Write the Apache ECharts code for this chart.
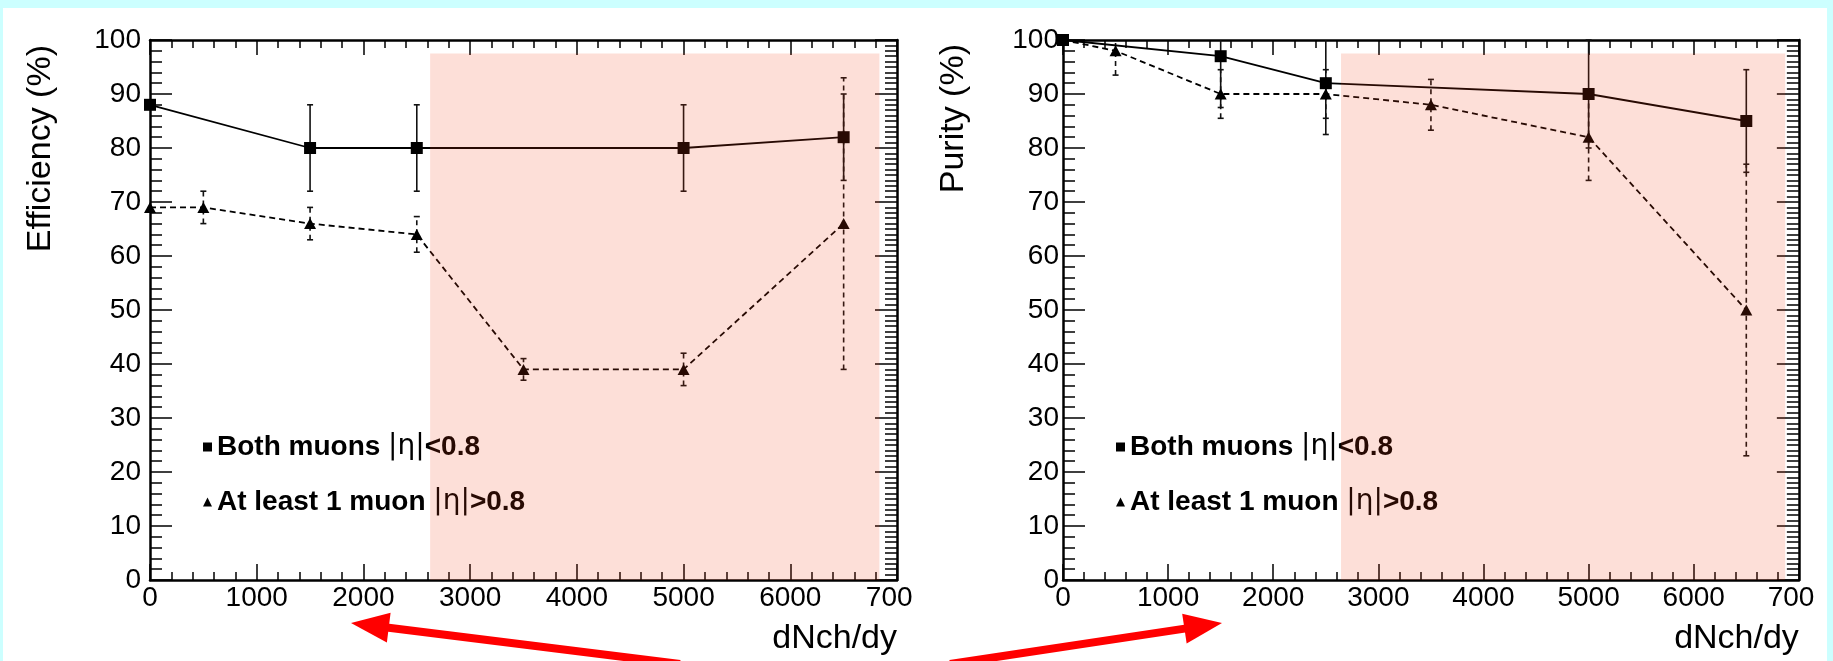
<!DOCTYPE html>
<html>
<head>
<meta charset="utf-8">
<script src="https://cdn.jsdelivr.net/npm/echarts@6/dist/echarts.min.js"></script>
<style>
html,body{margin:0;padding:0;width:1833px;height:661px;background:#ccffff;overflow:hidden;}
#bg{position:absolute;left:3px;top:8px;width:1824px;height:653px;background:#fff;}
#chart{position:absolute;left:0;top:0;width:1833px;height:661px;}
</style>
</head>
<body>
<div id="bg"></div>
<div id="chart"></div>
<script>
// ---- data ----
const xTickLabels = ['0','1000','2000','3000','4000','5000','6000','700'];
const seriesNames = ['Both muons |η|<0.8', 'At least 1 muon |η|>0.8'];

const effSqX   = [0, 1500, 2500, 5000, 6500];
const effSqY   = [88, 80, 80, 80, 82];
const effSqErr = [0, 8, 8, 8, 8];
const effTriX   = [0, 500, 1500, 2500, 3500, 5000, 6500];
const effTriY   = [69, 69, 66, 64, 39, 39, 66];
const effTriErr = [0, 3, 3, 3.3, 2, 3, 27];

const purSqX   = [0, 1500, 2500, 5000, 6500];
const purSqY   = [100, 97, 92, 90, 85];
const purSqErr = [0, 9.5, 9.5, 10, 9.5];
const purTriX   = [0, 500, 1500, 2500, 3500, 5000, 6500];
const purTriY   = [100, 98, 90, 90, 88, 82, 50];
const purTriErr = [0, 4.5, 4.5, 4.5, 4.7, 8, 27];

const effShade = [2625, 6835, 0, 97.5];
const purShade = [2645, 6870, 0, 97.5];

const X_MIN = 0, X_MAX = 7000, Y_MIN = 0, Y_MAX = 100;

// ---- helpers ----
const FONT = 'Liberation Sans';
const TICK_FS = 28;
const zip = (xs, ys) => xs.map((x, i) => [x, ys[i]]);
const errRows = (xs, ys, es) => xs.map((x, i) => [x, ys[i] - es[i], ys[i] + es[i]]).filter((r, i) => es[i] > 0);

function xAxisBottom(grid) {
  return {
    type: 'value', gridIndex: grid, position: 'bottom', min: X_MIN, max: X_MAX, interval: 1000,
    axisLine: {show: true, onZero: false, lineStyle: {color: '#000', width: 2.5}},
    axisTick: {show: true, inside: true, length: 16, lineStyle: {color: '#000', width: 1.5}},
    minorTick: {show: true, splitNumber: 5, length: 8, lineStyle: {color: '#000', width: 1.5}},
    splitLine: {show: false}, minorSplitLine: {show: false},
    axisLabel: {
      margin: 4, fontSize: TICK_FS, fontFamily: FONT, color: '#000', showMinLabel: true, showMaxLabel: true,
      formatter: v => {
        const s = xTickLabels[Math.round(v / 1000)];
        return s === '700' ? s + '{h|0}' : s;
      },
      rich: {h: {color: 'rgba(0,0,0,0)', fontSize: TICK_FS, fontFamily: FONT}}
    },
    name: 'dNch/dy', nameLocation: 'end', nameGap: 0,
    nameTextStyle: {fontSize: 34, fontFamily: FONT, color: '#000', align: 'right', verticalAlign: 'top', padding: [42, 0, 0, 0]}
  };
}
function xAxisTop(grid) {
  return {
    type: 'value', gridIndex: grid, position: 'top', min: X_MIN, max: X_MAX, interval: 1000,
    axisLine: {show: true, onZero: false, lineStyle: {color: '#000', width: 2.5}},
    axisTick: {show: true, inside: true, length: 15, lineStyle: {color: '#000', width: 1.5}},
    minorTick: {show: true, splitNumber: 5, length: 8, lineStyle: {color: '#000', width: 1.5}},
    splitLine: {show: false}, axisLabel: {show: false}
  };
}
function yAxisLeft(grid, margin) {
  return {
    type: 'value', gridIndex: grid, position: 'left', min: Y_MIN, max: Y_MAX, interval: 10,
    axisLine: {show: true, onZero: false, lineStyle: {color: '#000', width: 2.5}},
    axisTick: {show: true, inside: true, length: 22, lineStyle: {color: '#000', width: 1.5}},
    minorTick: {show: true, splitNumber: 5, length: 12, lineStyle: {color: '#000', width: 1.5}},
    splitLine: {show: false}, minorSplitLine: {show: false},
    axisLabel: {margin: margin, fontSize: TICK_FS, fontFamily: FONT, color: '#000', showMinLabel: true, showMaxLabel: true}
  };
}
function yAxisRight(grid) {
  return {
    type: 'value', gridIndex: grid, position: 'right', min: Y_MIN, max: Y_MAX, interval: 10,
    axisLine: {show: true, onZero: false, lineStyle: {color: '#000', width: 2.5}},
    axisTick: {show: true, inside: true, length: 22, lineStyle: {color: '#000', width: 1.5}},
    minorTick: {show: true, splitNumber: 10, length: 12, lineStyle: {color: '#000', width: 1.5}},
    splitLine: {show: false}, axisLabel: {show: false}
  };
}

function lineSeries(name, xi, yi, xs, ys, symbol, dashed) {
  return {
    type: 'line', name: name, xAxisIndex: xi, yAxisIndex: yi, data: zip(xs, ys),
    symbol: symbol, symbolSize: symbol === 'rect' ? 12 : [12, 11], clip: false, z: 3,
    itemStyle: {color: '#000'},
    lineStyle: {color: '#000', width: 1.8, type: dashed ? [6, 4] : 'solid'},
    emphasis: {disabled: true}, animation: false
  };
}
function errSeries(xi, yi, rows, dashed) {
  return {
    type: 'custom', name: 'err', xAxisIndex: xi, yAxisIndex: yi, data: rows, z: 2, silent: true,
    animation: false,
    renderItem: (params, api) => {
      const x = api.value(0);
      const lo = Math.max(api.value(1), Y_MIN), hi = Math.min(api.value(2), Y_MAX);
      const a = api.coord([x, lo]), b = api.coord([x, hi]);
      const st = {stroke: '#111', lineWidth: 1.6, lineDash: dashed ? [5, 4] : null};
      const ch = [{type: 'line', shape: {x1: a[0], y1: a[1], x2: b[0], y2: b[1]}, style: st}];
      if (api.value(1) >= Y_MIN) ch.push({type: 'line', shape: {x1: a[0] - 3, y1: a[1], x2: a[0] + 3, y2: a[1]}, style: {stroke: '#111', lineWidth: 1.6}});
      if (api.value(2) <= Y_MAX) ch.push({type: 'line', shape: {x1: b[0] - 3, y1: b[1], x2: b[0] + 3, y2: b[1]}, style: {stroke: '#111', lineWidth: 1.6}});
      return {type: 'group', children: ch};
    }
  };
}
function shadeSeries(xi, yi, box) {
  return {
    type: 'custom', name: 'shade', xAxisIndex: xi, yAxisIndex: yi, data: [box], z: 10, silent: true,
    animation: false,
    renderItem: (params, api) => {
      const p0 = api.coord([api.value(0), api.value(3)]);
      const p1 = api.coord([api.value(1), api.value(2)]);
      return {type: 'rect', shape: {x: p0[0], y: p0[1], width: p1[0] - p0[0], height: p1[1] - p0[1]},
        style: {fill: 'rgba(240,60,20,0.165)'}};
    }
  };
}
function legendFor(left) {
  return {
    orient: 'vertical', left: left, top: 425, itemGap: 21, itemWidth: 9, itemHeight: 9, itemStyle: {color: '#000'},
    selectedMode: false, z: 4,
    data: [{name: seriesNames[0], icon: 'rect'}, {name: seriesNames[1], icon: 'triangle'}],
    formatter: name => {
      const parts = name.split('|η|');
      return '{b|' + parts[0] + '}{n||η|}{b|' + parts[1] + '}';
    },
    textStyle: {
      fontSize: 28, fontFamily: FONT, color: '#000', lineHeight: 34,
      rich: {
        b: {fontSize: 28, fontWeight: 'bold', fontFamily: FONT, color: '#000', lineHeight: 34},
        n: {fontSize: 28, fontWeight: 'normal', fontFamily: 'DejaVu Sans', color: '#000', lineHeight: 34}
      }
    }
  };
}
function arrow(tail, tip, w, hl, hw) {
  const dx = tip[0] - tail[0], dy = tip[1] - tail[1];
  const L = Math.hypot(dx, dy), ux = dx / L, uy = dy / L, px = -uy, py = ux;
  const bx = tip[0] - ux * hl, by = tip[1] - uy * hl;
  return [
    {type: 'line', z: 100, shape: {x1: tail[0], y1: tail[1], x2: bx + ux * 2, y2: by + uy * 2}, style: {stroke: '#ff0000', lineWidth: w}},
    {type: 'polygon', z: 100, shape: {points: [tip, [bx + px * hw / 2, by + py * hw / 2], [bx - px * hw / 2, by - py * hw / 2]]}, style: {fill: '#ff0000'}}
  ];
}
function yTitle(text, x, y) {
  return {type: 'text', x: x, y: y, rotation: Math.PI / 2, z: 5,
    style: {text: text, fontSize: 34, fontFamily: FONT, fill: '#000', align: 'right', verticalAlign: 'middle', textAlign: 'right', textVerticalAlign: 'middle'}};
}

const chart = echarts.init(document.getElementById('chart'), null, {renderer: 'canvas'});
chart.setOption({
  backgroundColor: 'transparent',
  animation: false,
  grid: [
    {left: 150, top: 40, width: 747, height: 540, containLabel: false},
    {left: 1063, top: 40, width: 750, height: 540, containLabel: false}
  ],
  xAxis: [xAxisBottom(0), xAxisTop(0), xAxisBottom(1), xAxisTop(1)],
  yAxis: [yAxisLeft(0, 9), yAxisRight(0), yAxisLeft(1, 4), yAxisRight(1)],
  legend: [legendFor(198), legendFor(1111)],
  series: [
    errSeries(0, 0, errRows(effSqX, effSqY, effSqErr), false),
    errSeries(0, 0, errRows(effTriX, effTriY, effTriErr), true),
    lineSeries(seriesNames[0], 0, 0, effSqX, effSqY, 'rect', false),
    lineSeries(seriesNames[1], 0, 0, effTriX, effTriY, 'triangle', true),
    shadeSeries(0, 0, effShade),
    errSeries(2, 2, errRows(purSqX, purSqY, purSqErr), false),
    errSeries(2, 2, errRows(purTriX, purTriY, purTriErr), true),
    lineSeries(seriesNames[0], 2, 2, purSqX, purSqY, 'rect', false),
    lineSeries(seriesNames[1], 2, 2, purTriX, purTriY, 'triangle', true),
    shadeSeries(2, 2, purShade)
  ],
  graphic: [
    yTitle('Efficiency (%)', 41, 45),
    yTitle('Purity (%)', 954, 44),
    ...arrow([680, 664], [351, 623], 8, 38, 30),
    ...arrow([950, 664], [1222, 623], 8, 38, 30)
  ]
});
</script>
</body>
</html>
